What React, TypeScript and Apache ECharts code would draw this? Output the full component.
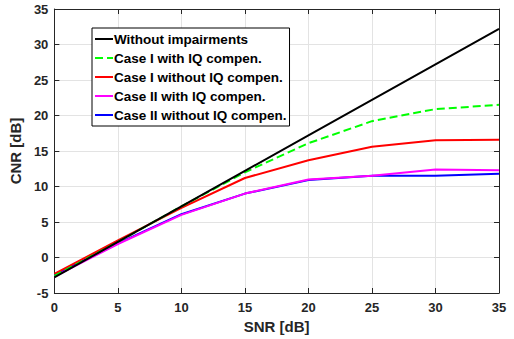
import React, { useEffect, useRef } from "react";
import * as echarts from "echarts";

const snr = [0, 5, 10, 15, 20, 25, 30, 35];
const noImpair = [-2.8, 2.2, 7.2, 12.2, 17.2, 22.2, 27.2, 32.2];
const case1With = [-2.6, 2.2, 7.2, 12.0, 16.1, 19.2, 20.9, 21.5];
const case1Without = [-2.3, 2.4, 7.0, 11.2, 13.7, 15.6, 16.5, 16.6];
const case2With = [-2.7, 1.9, 6.0, 9.0, 11.0, 11.5, 12.4, 12.3];
const case2Without = [-2.5, 2.0, 6.1, 9.0, 10.9, 11.5, 11.5, 11.8];

const names = [
  "Without impairments",
  "Case I with IQ compen.",
  "Case I without IQ compen.",
  "Case II with IQ compen.",
  "Case II without IQ compen.",
];
const colors = ["#000000", "#00ff00", "#ff0000", "#ff00ff", "#0000ff"];
const dashes = ["solid", "dashed", "solid", "solid", "solid"];
const datasets = [noImpair, case1With, case1Without, case2With, case2Without];

const FONT = "'Liberation Sans', Arial, sans-serif";
const AX = "#262626";

export default function App() {
  const ref = useRef<HTMLDivElement>(null);
  useEffect(() => {
    const chart = echarts.init(ref.current!, null, { renderer: "svg" });
    const series = datasets.map((d, i) => ({
      name: names[i],
      type: "line",
      data: d.map((v, j) => [snr[j], v]),
      symbol: "none",
      lineStyle: { color: colors[i], width: 2, type: dashes[i] },
      itemStyle: { color: colors[i] },
      z: 10 - i,
    }));
    const axisCommon = {
      axisLine: { show: true, onZero: false, lineStyle: { color: AX, width: 1 } },
      axisTick: { show: true, inside: true, length: 5, lineStyle: { color: AX } },
    };
    chart.setOption({
      animation: false,
      backgroundColor: "#ffffff",
      grid: { left: 54, right: 15, top: 9, bottom: 45, containLabel: false },
      xAxis: [
        {
          type: "value",
          min: 0,
          max: 35,
          interval: 5,
          name: "SNR [dB]",
          nameLocation: "middle",
          nameGap: 26,
          nameTextStyle: { fontFamily: FONT, fontWeight: "bold", fontSize: 15, color: AX },
          ...axisCommon,
          axisLabel: { fontFamily: FONT, fontWeight: "bold", fontSize: 13, color: AX, margin: 8 },
          splitLine: { show: true, lineStyle: { color: "#e3e3e3", width: 1 } },
        },
        {
          type: "value",
          position: "top",
          min: 0,
          max: 35,
          interval: 5,
          ...axisCommon,
          axisLabel: { show: false },
          splitLine: { show: false },
        },
      ],
      yAxis: [
        {
          type: "value",
          min: -5,
          max: 35,
          interval: 5,
          name: "CNR [dB]",
          nameLocation: "middle",
          nameGap: 24,
          nameTextStyle: { fontFamily: FONT, fontWeight: "bold", fontSize: 15, color: AX },
          ...axisCommon,
          axisLabel: { fontFamily: FONT, fontWeight: "bold", fontSize: 13, color: AX, margin: 6 },
          splitLine: { show: true, lineStyle: { color: "#e3e3e3", width: 1 } },
        },
        {
          type: "value",
          position: "right",
          min: -5,
          max: 35,
          interval: 5,
          ...axisCommon,
          axisLabel: { show: false },
          splitLine: { show: false },
        },
      ],
      legend: {
        orient: "vertical",
        left: 92,
        top: 28,
        data: names,
        backgroundColor: "#ffffff",
        borderColor: "#000000",
        borderWidth: 1,
        borderRadius: 0,
        padding: [4, 3, 4, 2],
        itemGap: 5,
        itemWidth: 18,
        itemHeight: 14,
        itemStyle: { opacity: 0 },
        textStyle: {
          fontFamily: FONT,
          fontWeight: "bold",
          fontSize: 13.5,
          lineHeight: 14,
          color: "#000",
          padding: [0, 0, 0, -4],
        },
      },
      series,
    });
    return () => chart.dispose();
  }, []);
  return <div ref={ref} style={{ width: 514, height: 339, position: "absolute", left: 0, top: 0 }} />;
}
